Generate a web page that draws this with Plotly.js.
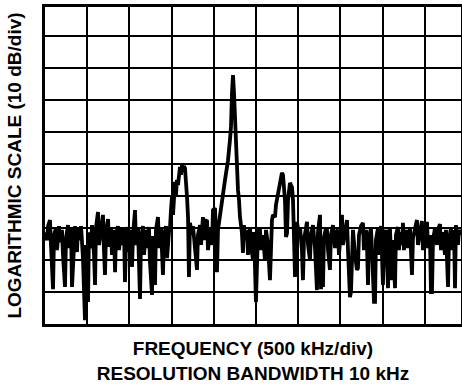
<!DOCTYPE html>
<html>
<head>
<meta charset="utf-8">
<script src="https://cdn.plot.ly/plotly-3.0.1.min.js"></script>
<style>html,body{margin:0;padding:0;background:#fff;}#chart{width:462px;height:384px;}</style>
</head>
<body>
<div id="chart"></div>
<script>
// Frequency offset from left edge of display (kHz), 500 kHz/div
const freqKHz = [
0,24,36,59,71,95,107,130,142,166,178,201,213,237,249,273,284,308,320,344,356,379,391,415,427,450,474,486,510,521,545,557,581,593,604,628,640,664,687,699,711,723,747,758,782,794,818,830,841,865,877,901,912,936,948,960,984,995,1019,1031,1043,1067,1078,1102,1126,1138,1161,1173,1197,1209,1232,1244,1268,1280,1304,1315,1339,1351,1375,1398,1410,1434,1446,1469,
1481,1493,1505,1517,1529,1541,1552,1564,1576,1588,1600,1612,1623,1635,1647,1659,1671,1683,1695,1706,1718,1742,1754,1778,1801,1813,1837,1849,1872,1884,1896,1920,1932,1955,1979,1991,2015,2026,2038,2050,2074,2086,2097,
2109,2133,2157,2169,2192,2204,2216,2228,2240,2252,2263,2275,2287,2299,2311,2334,2346,2358,2370,2394,2406,2429,2441,2465,2477,2500,2512,2524,2548,2560,2583,2607,2619,2643,2666,2678,2690,
2702,2726,2737,2761,2785,2797,2808,2820,2832,2844,2856,2868,2880,2891,2903,2915,2927,2939,2951,2963,2974,2986,3010,3022,3045,3057,3069,3093,3105,3117,3140,3152,3176,3200,3223,3235,3259,3271,3282,3294,3306,3330,3342,3354,3377,3389,3413,3437,3448,3472,3484,3508,3519,3531,3555,3579,3591,3614,3626,3638,3650,3674,3697,3709,3721,3745,3768,3780,3804,3816,3828,3839,3863,3875,3899,3911,3922,3946,3958,3970,3982,4005,4017,4041,4065,4076,4088,4112,4124,4148,4159,4183,4195,4207,4230,4242,4254,4278,4302,4325,4349,4361,4385,4408,4420,4444,4467,4479,4503,4527,4539,4562,4574,4586,4598,4622,4645,4657,4681,4693,4716,4740,4752,4776,4787,4811,4823,4847,4859,4870,4894,4906,4930
];
// Level (dB), 10 dB/div
const levelDB = [
-71.3,-73.8,-69.4,-67.5,-75.3,-89.1,-72.2,-70.0,-76.9,-69.4,-74.4,-70.6,-78.4,-88.4,-73.1,-69.1,-76.3,-69.7,-88.4,-73.8,-69.4,-77.5,-70.0,-73.8,-69.4,-79.4,-98.8,-75.3,-93.1,-71.3,-76.3,-69.1,-78.4,-87.8,-70.0,-65.0,-75.3,-70.6,-65.9,-76.9,-84.7,-71.3,-67.2,-75.9,-70.0,-78.4,-70.6,-83.8,-72.2,-69.4,-76.9,-70.3,-75.3,-70.0,-86.9,-73.8,-69.7,-77.5,-70.6,-82.2,-72.2,-64.4,-75.3,-70.0,-92.2,-73.1,-69.4,-78.4,-70.6,-76.3,-69.7,-80.6,-90.9,-72.5,-87.8,-70.6,-66.6,-76.3,-70.0,-84.7,-72.5,-69.4,-79.4,-71.3,
-70.0,-64.4,-60.3,-65.9,-58.1,-55.6,-59.7,-55.0,-56.6,-52.5,-50.9,-53.4,-50.3,-51.9,-50.6,-51.3,-55.0,-60.3,-66.6,-85.3,-68.4,-72.2,-69.4,-76.9,-83.1,-72.2,-69.1,-75.3,-66.6,-73.8,-68.1,-67.5,-76.9,-70.0,-75.3,-64.4,-63.8,-73.8,-83.8,-70.6,-65.9,-62.8,-60.3,
-59.1,-55.0,-50.9,-48.8,-42.5,-38.4,-27.8,-22.2,-27.8,-36.3,-38.4,-48.8,-58.1,-61.3,-66.6,-71.6,-77.8,-69.1,-73.8,-70.6,-78.4,-69.7,-75.3,-80.0,-71.3,-93.1,-73.8,-70.6,-70.6,-76.9,-72.2,-80.0,-70.6,-75.3,-86.3,-73.8,-67.5,
-65.9,-66.6,-62.8,-59.1,-55.0,-53.4,-52.8,-53.4,-56.6,-61.3,-72.8,-71.6,-61.3,-56.6,-55.9,-56.6,-57.2,-61.3,-70.6,-85.3,-73.8,-68.1,-72.2,-69.7,-76.9,-86.3,-73.8,-70.0,-68.1,-75.3,-80.0,-72.2,-69.1,-76.3,-89.4,-71.3,-65.9,-89.1,-75.3,-88.4,-73.1,-70.0,-70.6,-76.9,-83.1,-72.2,-69.1,-76.3,-71.3,-70.6,-78.4,-70.0,-65.9,-75.3,-71.3,-67.5,-76.9,-91.6,-90.0,-73.8,-70.6,-78.4,-83.1,-82.5,-72.2,-69.4,-68.4,-76.9,-70.6,-75.3,-87.8,-73.1,-70.0,-76.9,-93.1,-93.1,-73.8,-70.0,-78.4,-72.2,-69.4,-87.8,-73.8,-70.6,-88.8,-73.1,-70.0,-86.3,-73.8,-88.8,-72.2,-69.7,-76.9,-71.3,-75.3,-68.4,-76.9,-70.6,-76.3,-70.0,-84.7,-73.1,-69.4,-67.5,-75.3,-70.6,-67.8,-76.9,-71.3,-68.1,-76.3,-72.2,-90.0,-90.0,-73.8,-70.0,-75.3,-70.6,-68.8,-76.9,-71.3,-78.4,-70.6,-88.4,-73.8,-70.0,-76.9,-70.6,-88.8,-69.1,-75.3,-70.6,-72.2
];
const xTitle = 'FREQUENCY (500 kHz/div)<br>RESOLUTION BANDWIDTH 10 kHz';
const yTitle = 'LOGARITHMIC SCALE (10 dB/div)';

const trace = {
  x: freqKHz, y: levelDB, type: 'scatter', mode: 'lines',
  line: {color: '#000', width: 3.8}, hoverinfo: 'skip', cliponaxis: true
};
const titleFont = {family: '"Liberation Sans", Arial, sans-serif', size: 19, color: '#000', weight: 'bold'};
const layout = {
  width: 462, height: 384,
  margin: {l: 45, r: 1, t: 7, b: 60, pad: 0},
  paper_bgcolor: '#fff', plot_bgcolor: '#fff',
  showlegend: false,
  xaxis: {
    range: [0, 4930], tick0: 0, dtick: 500, showgrid: true, gridcolor: '#000', gridwidth: 2,
    zeroline: false, showline: true, linecolor: '#000', linewidth: 3, mirror: true,
    ticks: '', showticklabels: false, fixedrange: true,
    title: {text: '<b>' + xTitle + '</b>', font: titleFont, standoff: 17}
  },
  yaxis: {
    range: [-100, -0.94], tick0: -100, dtick: 10, showgrid: true, gridcolor: '#000', gridwidth: 2,
    zeroline: false, showline: true, linecolor: '#000', linewidth: 3, mirror: true,
    ticks: '', showticklabels: false, fixedrange: true,
    title: {text: '<b>' + yTitle + '</b>', font: titleFont, standoff: 16}
  }
};
Plotly.newPlot('chart', [trace], layout, {displayModeBar: false, staticPlot: true});
</script>
</body>
</html>
